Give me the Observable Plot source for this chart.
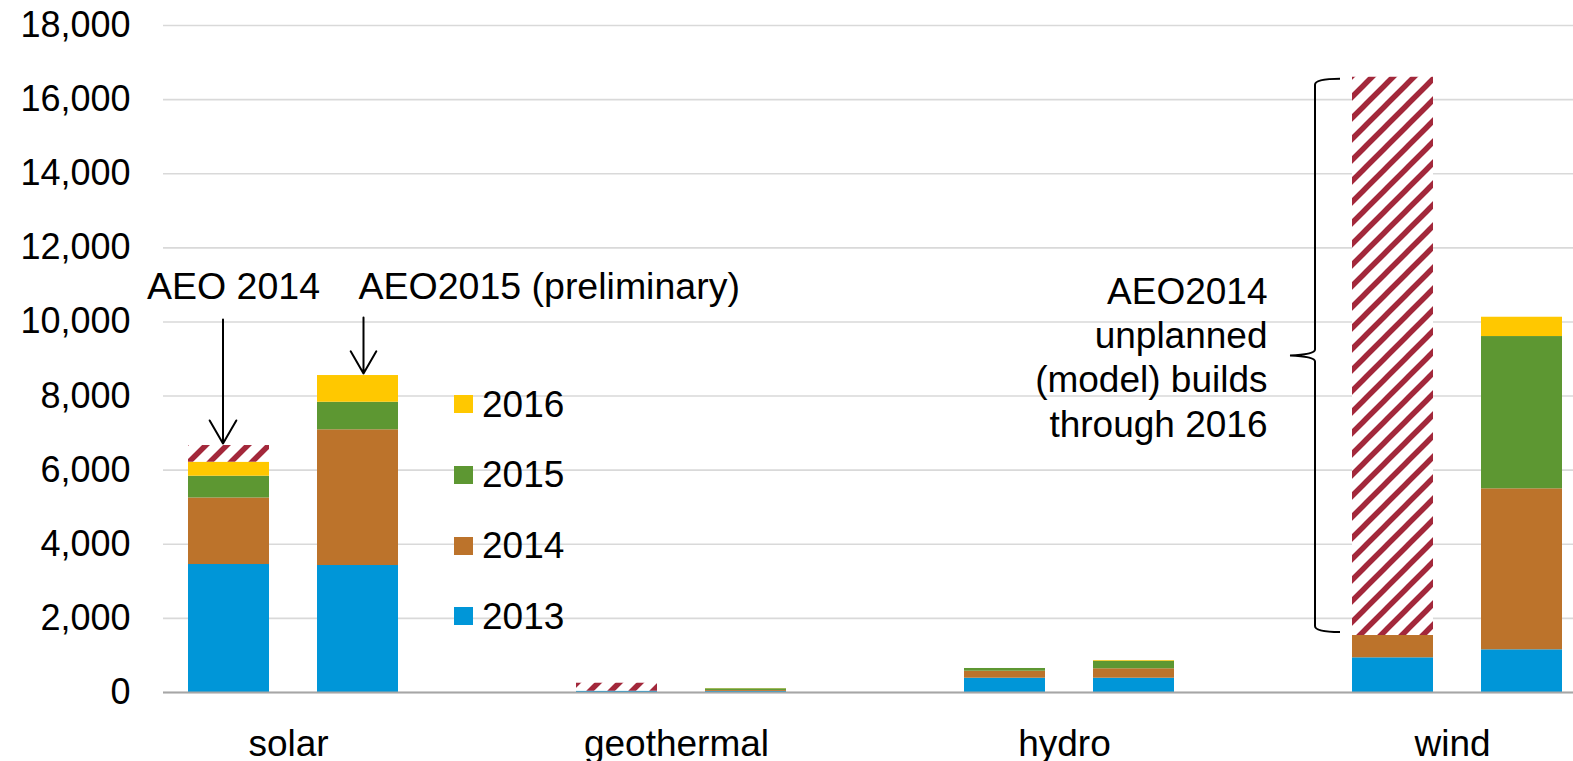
<!DOCTYPE html>
<html>
<head>
<meta charset="utf-8">
<script src="https://cdn.jsdelivr.net/npm/d3@7"></script>
<script src="https://cdn.jsdelivr.net/npm/@observablehq/plot@0.6"></script>
<style>
  html, body { margin: 0; padding: 0; background: #fff; overflow: hidden; }
  #wrap { position: relative; width: 1573px; height: 761px; font-family: "Liberation Sans", Arial, sans-serif; }
  #legend { position: absolute; left: 454px; top: 369px; }
  .row { display: flex; align-items: center; height: 70.67px; font-size: 37px; color: #000; line-height: 1; }
  .sw { width: 19px; height: 18px; margin-right: 9px; }
</style>
</head>
<body>
<div id="wrap"><div id="legend"></div></div>
<script>
// ---- data ----
const categories = ["solar", "geothermal", "hydro", "wind"];
const scenarios = ["AEO2014", "AEO2015"];
const seriesNames = ["2013", "2014", "2015", "2016", "unplanned"];
const seriesColors = ["#0096d8", "#bc732b", "#5d9732", "#ffc800", "url(#hatch)"];
const legendOrder = ["2016", "2015", "2014", "2013"];

// AEO2014 (MW added per year, by category)
const aeo2014_2013 = [3454, 35, 386, 936];
const aeo2014_2014 = [1796, 0, 189, 602];
const aeo2014_2015 = [587, 0, 73, 0];
const aeo2014_2016 = [378, 0, 0, 0];
const aeo2014_unplanned = [450, 215, 0, 15065];

// AEO2015 (preliminary)
const aeo2015_2013 = [3427, 30, 386, 1152];
const aeo2015_2014 = [3662, 25, 254, 4345];
const aeo2015_2015 = [744, 45, 205, 4109];
const aeo2015_2016 = [721, 5, 18, 521];

const yTicks = [0, 2000, 4000, 6000, 8000, 10000, 12000, 14000, 16000, 18000];

const annotationLabelY = 10630;
const leftLabel2014 = "AEO 2014";
const leftLabel2015 = "AEO2015 (preliminary)";
const rightNote = "AEO2014\nunplanned\n(model) builds\nthrough 2016";

// ---- table ----
const table = {
  AEO2014: [aeo2014_2013, aeo2014_2014, aeo2014_2015, aeo2014_2016, aeo2014_unplanned],
  AEO2015: [aeo2015_2013, aeo2015_2014, aeo2015_2015, aeo2015_2016, [0, 0, 0, 0]]
};
const rows = [];
for (const sc of scenarios) {
  table[sc].forEach((arr, si) => {
    categories.forEach((c, ci) => rows.push({scenario: sc, category: c, series: seriesNames[si], value: arr[ci]}));
  });
}
const total = (sc, c) => d3.sum(rows.filter(d => d.scenario === sc && d.category === c), d => d.value);
const below = (sc, c, s) => d3.sum(rows.filter(d => d.scenario === sc && d.category === c && d.series !== s), d => d.value);

const windTop = total("AEO2014", "wind");
const windBase = below("AEO2014", "wind", "unplanned");

const font = "'Liberation Sans', Arial, sans-serif";

const chart = Plot.plot({
  width: 1573,
  height: 761,
  marginTop: 25,
  marginBottom: 69,
  marginLeft: 163,
  marginRight: 0,
  style: {fontFamily: font, fontSize: "36px", color: "#000", background: "#fff"},
  x: {domain: categories, range: [99, 1651], padding: 0},
  y: {domain: [0, 18000]},
  color: {domain: seriesNames, range: seriesColors},
  marks: [
    Plot.gridY(yTicks, {stroke: "#d9d9d9", strokeOpacity: 1, strokeWidth: 1.6}),
    Plot.axisY(yTicks, {tickSize: 0, tickPadding: 33, tickFormat: d3.format(","), fontSize: 36, label: null}),
    Plot.axisX({tickSize: 0, tickPadding: 37, fontSize: 37, dx: -5, label: null}),
    Plot.barY(rows.filter(d => d.scenario === "AEO2014"),
      Plot.stackY({x: "category", y: "value", fill: "series", insetLeft: 89, insetRight: 218})),
    Plot.barY(rows.filter(d => d.scenario === "AEO2015"),
      Plot.stackY({x: "category", y: "value", fill: "series", insetLeft: 218, insetRight: 89})),
    Plot.ruleY([0], {stroke: "#a6a6a6", strokeWidth: 2}),
    // annotations
    Plot.text([{c: "solar", y: annotationLabelY, t: leftLabel2014}],
      {x: "c", y: "y", text: "t", dx: -60, textAnchor: "middle", lineAnchor: "bottom", fontSize: 37.5, fill: "#000"}),
    Plot.text([{c: "solar", y: annotationLabelY, t: leftLabel2015}],
      {x: "c", y: "y", text: "t", dx: 65, textAnchor: "start", lineAnchor: "bottom", fontSize: 37.5, fill: "#000"}),
    Plot.arrow([{c: "solar", y1: annotationLabelY, y2: total("AEO2014", "solar")}],
      {x1: "c", x2: "c", y1: "y1", y2: "y2", dx: -70.5, stroke: "#000", strokeWidth: 2, headLength: 20, headAngle: 60, insetStart: 21, insetEnd: 2}),
    Plot.arrow([{c: "solar", y1: annotationLabelY, y2: total("AEO2015", "solar")}],
      {x1: "c", x2: "c", y1: "y1", y2: "y2", dx: 70, stroke: "#000", strokeWidth: 2, headLength: 20, headAngle: 60, insetStart: 19, insetEnd: 2}),
    Plot.text([{c: "wind", y: (windTop + windBase) / 2, t: rightNote}],
      {x: "c", y: "y", text: "t", dx: -190, textAnchor: "end", lineAnchor: "middle", lineHeight: 1.19, fontSize: 37, fill: "#000"})
  ]
});

// hatch pattern
const svg = d3.select(chart);
const defs = svg.insert("defs", ":first-child");
const pat = defs.append("pattern").attr("id", "hatch").attr("patternUnits", "userSpaceOnUse")
  .attr("width", 21).attr("height", 21);
pat.append("rect").attr("width", 21).attr("height", 21).attr("fill", "#fff");
pat.append("path").attr("d", "M-5.25,5.25L5.25,-5.25M0,21L21,0M15.75,26.25L26.25,15.75")
  .attr("stroke", "#a3283b").attr("stroke-width", 5.5);

// brace around the AEO2014 wind unplanned segment
const xs = chart.scale("x"), ys = chart.scale("y");
const bx = xs.apply("wind") + 89 - 37;
const yT = ys.apply(windTop) + 2, yB = ys.apply(windBase) - 3, yM = (yT + yB) / 2;
svg.append("path")
  .attr("d", `M${bx + 25},${yT} Q${bx},${yT} ${bx},${yT + 6} L${bx},${yM - 6} Q${bx},${yM - 1} ${bx - 25},${yM} Q${bx},${yM + 1} ${bx},${yM + 6} L${bx},${yB - 6} Q${bx},${yB} ${bx + 25},${yB}`)
  .attr("fill", "none").attr("stroke", "#000").attr("stroke-width", 2);

const wrap = document.getElementById("wrap");
wrap.insertBefore(chart, wrap.firstChild);

// legend
const colorOf = Object.fromEntries(seriesNames.map((s, i) => [s, seriesColors[i]]));
const legend = d3.select("#legend");
for (const s of legendOrder) {
  const r = legend.append("div").attr("class", "row");
  r.append("div").attr("class", "sw").style("background", colorOf[s]);
  r.append("span").text(s);
}
</script>
</body>
</html>
